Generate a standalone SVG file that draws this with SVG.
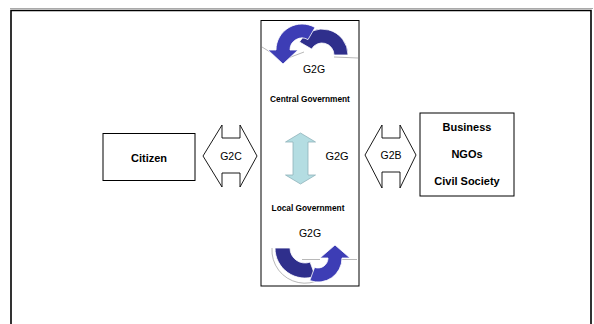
<svg xmlns="http://www.w3.org/2000/svg" width="594" height="324" viewBox="0 0 594 324">
<style>
.box{fill:#fff;stroke:#000;stroke-width:1}
.b{font-family:"Liberation Sans",Arial,sans-serif;font-weight:bold;fill:#000;text-anchor:middle}
.r{font-family:"Liberation Sans",Arial,sans-serif;fill:#000;text-anchor:middle}
.hex{fill:#fff;stroke:#000;stroke-width:0.9}
.navy{fill:#2f2f8c;stroke:#fff;stroke-width:0.8}
.blue{fill:#3d3db5;stroke:#fff;stroke-width:0.8}
.faint{fill:none;stroke:#9a9a9a;stroke-width:0.7}
</style>
<rect width="594" height="324" fill="#fff"/>
<g id="frame">
<line x1="10" y1="8.5" x2="593" y2="8.5" stroke="#aaa" stroke-width="1"/>
<path d="M11 324 V10.5 H591 V324" fill="none" stroke="#000" stroke-width="1.6"/>
</g>
<g id="central">
<rect class="box" x="261" y="20.5" width="98" height="265.5"/>
<g id="top-cycle">
<path class="faint" d="M262 47 L283 60 L304 52 M334 57 L358 58"/>
<path class="navy" d="M299.5 42 A26 26 0 0 1 348 55 L334 55 A12 12 0 0 0 311.6 49 Z"/>
<path class="blue" d="M315 27.5 A26 26 0 0 0 276 50 L268 50 L283 64 L298 50 L290 50 A12 12 0 0 1 308 39.6 Z"/>
</g>
<text class="r" x="314" y="73" font-size="10.5">G2G</text>
<text class="b" x="310" y="102" font-size="8.3">Central Government</text>
<text class="b" x="308" y="211" font-size="8.3">Local Government</text>
<text class="r" x="310" y="237" font-size="10.5">G2G</text>
<g id="bottom-cycle">
<path class="faint" d="M272 248 A33 33 0 0 0 336 261.3 M302 259.5 H320 M340 259.5 H357"/>
<path class="navy" d="M275 248 A30 30 0 0 0 315.3 276.2 L310.1 262.1 A15 15 0 0 1 290 248 Z"/>
<path class="blue" d="M309.8 280.6 A24 24 0 0 0 342 258 L350 258 L335 245 L320 258 L328 258 A10 10 0 0 1 314.6 267.4 Z"/>
</g>
<g id="g2g-arrow">
<path d="M300.5 133 L315.5 142 L308 142 L308 175 L315.5 175 L300.5 184 L285.5 175 L293 175 L293 142 L285.5 142 Z" fill="#b4dde2" stroke="#8fb3ba" stroke-width="0.8"/>
</g>
<text class="r" x="337" y="160" font-size="11">G2G</text>
</g>
<g id="citizen">
<rect class="box" x="103" y="133.5" width="92" height="47"/>
<text class="b" x="149" y="162" font-size="11">Citizen</text>
</g>
<g id="stakeholders">
<rect class="box" x="420" y="113" width="94" height="83"/>
<text class="b" x="467" y="131" font-size="11">Business</text>
<text class="b" x="467" y="158" font-size="11">NGOs</text>
<text class="b" x="467" y="185" font-size="11">Civil Society</text>
</g>
<g id="connectors">
<g id="g2c">
<path class="hex" d="M222 125 V138 H240 V125 L257 156 L240 187 V173 H222 V187 L203 156 Z"/>
<text class="r" x="231" y="160" font-size="10.5">G2C</text>
</g>
<g id="g2b">
<path class="hex" d="M382 125 V138 H400 V125 L416 155 L400 188 V172 H382 V188 L365 155 Z"/>
<text class="r" x="391" y="159" font-size="10.5">G2B</text>
</g>
</g>
</svg>
